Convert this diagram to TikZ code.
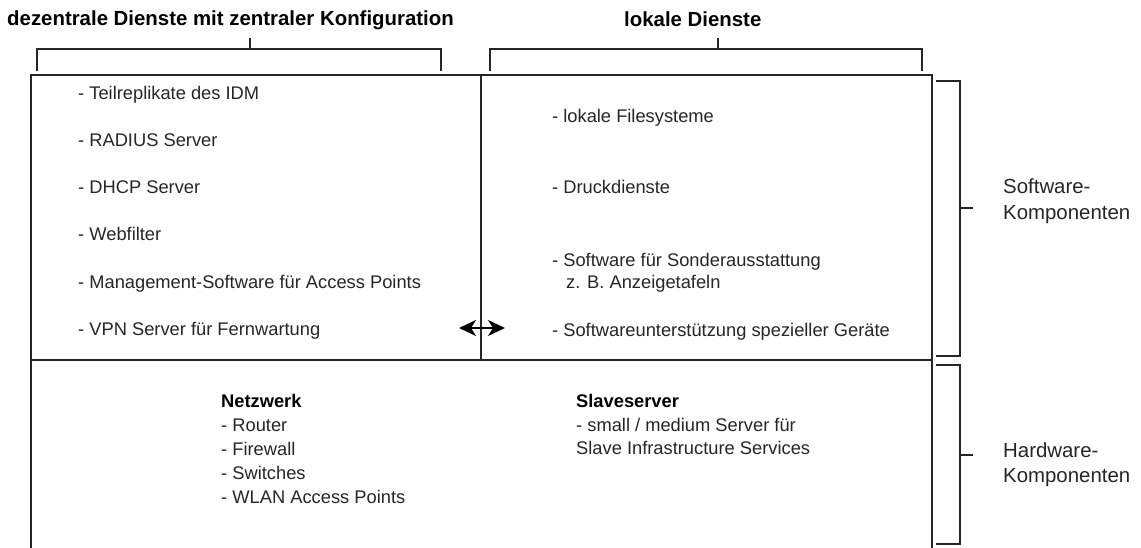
\documentclass[tikz,border=0pt]{standalone}
\usepackage{fontspec}
\setmainfont{Liberation Sans}
\usetikzlibrary{arrows.meta}
\tikzset{mytip/.tip={Stealth[length=17pt,width=16pt,inset=5pt]}}
\begin{document}
\begin{tikzpicture}[x=1pt,y=-1pt,
  line/.style={line width=1.9pt, black!85},
  txt/.style={anchor=base west, inner sep=0pt, font=\fontsize{18.3}{22}\selectfont, text=black!85},
  btxt/.style={anchor=base west, inner sep=0pt, font=\fontsize{18.3}{22}\selectfont\bfseries},
  title/.style={anchor=base west, inner sep=0pt, font=\fontsize{20.4}{24}\selectfont\bfseries},
  side/.style={anchor=base west, inner sep=0pt, font=\fontsize{20.4}{24}\selectfont, text=black!85},
  dblarrow/.style={line width=1.9pt, black, mytip-mytip}]
\useasboundingbox (0,0) rectangle (1141,548);
\fill[white] (0,0) rectangle (1141,548);
% titles
\node[title] (t1) at (7,26) {dezentrale Dienste mit zentraler Konfiguration};
\node[title] (t2) at (624,27) {lokale Dienste};
% top brackets
\draw[line] (37,71) -- (37,49) -- (441,49) -- (441,71);
\draw[line] (250,38) -- (250,49);
\draw[line] (490,71) -- (490,49) -- (922,49) -- (922,71);
\draw[line] (718,38) -- (718,49);
% main box
\draw[line] (31,552) -- (31,75) -- (932,75) -- (932,552);
\draw[line] (31,360) -- (932,360);
\draw[line] (481,75) -- (481,360);
% right brackets
\draw[line] (936,81) -- (960,81) -- (960,356) -- (936,356);
\draw[line] (960,208) -- (973,208);
\draw[line] (936,365) -- (960,365) -- (960,544) -- (936,544);
\draw[line] (960,455) -- (973,455);
% left column
\node[txt] (l1) at (78,100) {- Teilreplikate des IDM};
\node[txt] (l2) at (78,147) {- RADIUS Server};
\node[txt] (l3) at (78,194) {- DHCP Server};
\node[txt] (l4) at (78,241) {- Webfilter};
\node[txt] (l5) at (78,288) {- Management-Software für Access Points};
\node[txt] (l6) at (78,335) {- VPN Server für Fernwartung};
% right column
\node[txt] (r1) at (552,123) {- lokale Filesysteme};
\node[txt] (r2) at (552,194) {- Druckdienste};
\node[txt] (r3) at (552,266) {- Software für Sonderausstattung};
\node[txt] (r3b) at (566,288) {z. B. Anzeigetafeln};
\node[txt] (r4) at (552,336) {- Softwareunterstützung spezieller Geräte};
% arrow
\coordinate (aL) at (459,328);
\coordinate (aR) at (505,328);
\draw[dblarrow] (aL) -- (aR);
% bottom
\node[btxt] (n0) at (221,407) {Netzwerk};
\node[txt] (n1) at (221,431) {- Router};
\node[txt] (n2) at (221,455) {- Firewall};
\node[txt] (n3) at (221,479) {- Switches};
\node[txt] (n4) at (221,503) {- WLAN Access Points};
\node[btxt] (s0) at (576,407) {Slaveserver};
\node[txt] (s1) at (576,431) {- small / medium Server für};
\node[txt] (s2) at (576,454) {Slave Infrastructure Services};
% side labels
\node[side] (sw1) at (1003,194) {Software-};
\node[side] (sw2) at (1003,220) {Komponenten};
\node[side] (hw1) at (1003,457) {Hardware-};
\node[side] (hw2) at (1003,482) {Komponenten};
\end{tikzpicture}
\end{document}
